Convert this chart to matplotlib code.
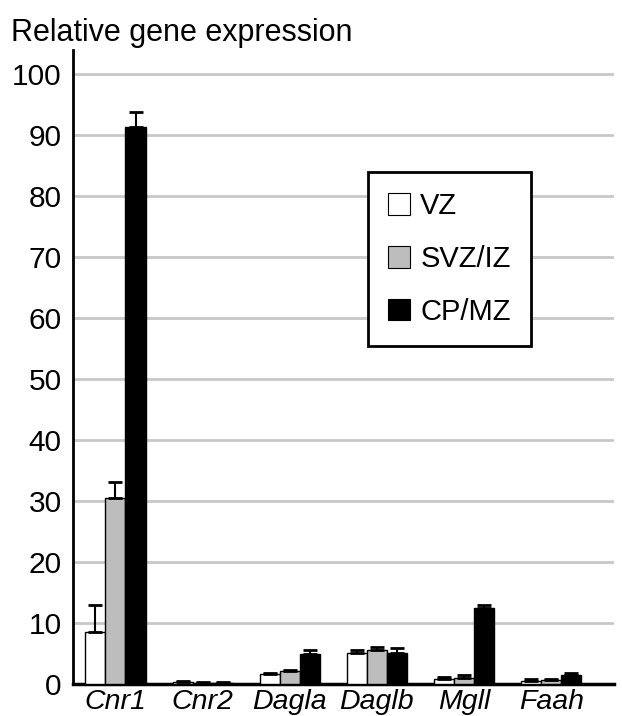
import numpy as np
import matplotlib.pyplot as plt
from matplotlib.patches import Patch

plt.rcParams['font.family'] = ['Liberation Sans', 'DejaVu Sans']

genes = ["Cnr1", "Cnr2", "Dagla", "Daglb", "Mgll", "Faah"]
zones = ["VZ", "SVZ/IZ", "CP/MZ"]
vz = [8.5, 0.3, 1.6, 5.1, 0.8, 0.4]
vz_err = [4.5, 0.1, 0.1, 0.5, 0.3, 0.4]
svz = [30.5, 0.2, 2.1, 5.6, 1.0, 0.6]
svz_err = [2.6, 0.1, 0.1, 0.5, 0.5, 0.2]
cp = [91.3, 0.2, 4.9, 5.1, 12.4, 1.5]
cp_err = [2.6, 0.1, 0.6, 0.8, 0.5, 0.3]

colors = ["white", "#bdbdbd", "black"]

fig = plt.figure(figsize=(6.22, 7.16), dpi=100)
ax = fig.add_axes([0.117, 0.045, 0.870, 0.885])

x = np.arange(len(genes))
w = 0.23
for i, (vals, errs) in enumerate([(vz, vz_err), (svz, svz_err), (cp, cp_err)]):
    ax.bar(x + (i - 1) * w, vals, w, color=colors[i], edgecolor="black",
           linewidth=1.0, zorder=3)
    ax.errorbar(x + (i - 1) * w, vals, yerr=[np.zeros(len(errs)), errs],
                fmt="none", ecolor="black", elinewidth=1.5, capsize=5,
                capthick=2, zorder=4)

ax.set_xlim(-0.49, 5.72)
ax.set_ylim(0, 104)
ax.set_yticks(range(0, 101, 10))
ax.set_yticklabels([str(v) for v in range(0, 101, 10)], fontsize=21.5)
ax.set_xticks(x)
ax.set_xticklabels(genes, fontsize=20.5, style="italic")
ax.tick_params(axis="y", length=0, pad=8)
ax.tick_params(axis="x", length=0, pad=4)
ax.yaxis.grid(True, color="#c8c8c8", linewidth=2, zorder=0)
ax.set_axisbelow(True)
for s in ["top", "right"]:
    ax.spines[s].set_visible(False)
ax.spines["left"].set_linewidth(2)
ax.spines["bottom"].set_linewidth(2.5)

handles = [Patch(facecolor=c, edgecolor="black", linewidth=0.8) for c in colors]
leg = ax.legend(handles, zones, loc="upper left", bbox_to_anchor=(0.545, 0.808),
                fontsize=21, frameon=True, fancybox=False, borderpad=0.7,
                labelspacing=0.85, handlelength=0.75, handleheight=0.75,
                handletextpad=0.35, borderaxespad=0)
leg.get_frame().set_edgecolor("black")
leg.get_frame().set_linewidth(2)
leg.get_frame().set_alpha(1)

fig.text(0.017, 0.943, "Relative gene expression", fontsize=22)

fig.savefig("out.png", dpi=100)
